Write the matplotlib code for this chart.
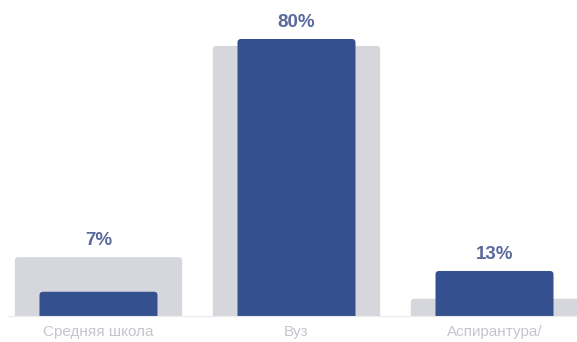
import matplotlib
matplotlib.use('Agg')
import matplotlib.pyplot as plt
from matplotlib.patches import FancyBboxPatch

# данные
categories = ['Средняя школа', 'Вуз', 'Аспирантура/']
values = [7, 80, 13]          # синие столбцы, %
background = [17, 78, 5]      # серые столбцы, %

plt.rcParams['font.family'] = ['Liberation Sans', 'DejaVu Sans']

fig = plt.figure(figsize=(5.77, 3.42), dpi=100)
ax = fig.add_axes([0, 26 / 342, 1, 316 / 342])

x = list(range(len(categories)))
grey = ax.bar(x, background, width=0.845, color='#d5d7dc', zorder=1)
blue = ax.bar(x, values, width=0.596, color='#35508f', zorder=2)


def round_bars(bars):
    # скругляем верхние углы
    for b in bars:
        bx, by = b.get_x(), b.get_y()
        w, h = b.get_width(), b.get_height()
        p = FancyBboxPatch((bx, by - 1.5), w, h + 1.5,
                           boxstyle='round,pad=0,rounding_size=0.018',
                           mutation_aspect=57, facecolor=b.get_facecolor(),
                           edgecolor='none', zorder=b.get_zorder())
        b.set_visible(False)
        ax.add_patch(p)


round_bars(grey)
round_bars(blue)

# подписи процентов
for i, v in enumerate(values):
    top = max(v, background[i])
    ax.annotate(f'{v}%', (i, top), xytext=(0, 6), textcoords='offset points',
                ha='center', va='bottom', fontsize=13.5, fontweight='bold',
                color='#5a6a9b')

ax.set_xlim(-98.5 / 198, (577 - 98.5) / 198)
ax.set_ylim(0, 316 / 3.4625)
ax.set_xticks(x)
ax.set_xticklabels(categories, fontsize=11, color='#c4c6cc')
ax.tick_params(axis='x', length=0, pad=6.5)
ax.set_yticks([])
for s in ['top', 'right', 'left']:
    ax.spines[s].set_visible(False)
ax.spines['bottom'].set_color('#ebebeb')
ax.spines['bottom'].set_bounds(-0.457, 2.42)
ax.set_facecolor('none')

fig.savefig('out.png', dpi=100)
